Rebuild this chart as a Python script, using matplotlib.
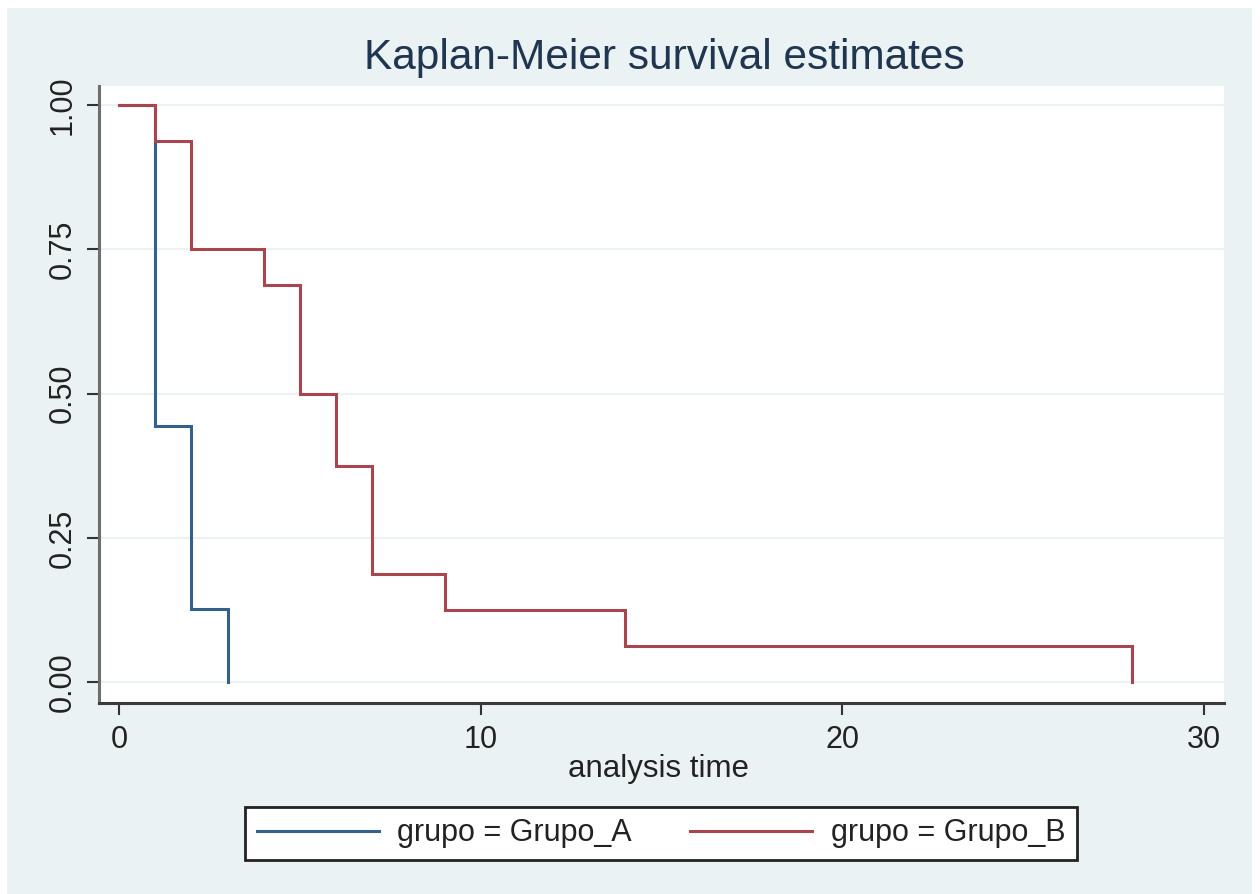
import matplotlib
matplotlib.use("Agg")
import matplotlib.pyplot as plt
from matplotlib.patches import Rectangle
from matplotlib.lines import Line2D

# ---- data ----
times_A = [0, 1, 2, 3]
surv_A = [1.0, 0.444, 0.127, 0.0]
times_B = [0, 1, 2, 4, 5, 6, 7, 9, 14, 28]
surv_B = [1.0, 0.9375, 0.75, 0.6875, 0.5, 0.375, 0.1875, 0.125, 0.0625, 0.0]
labels = ["grupo = Grupo_A", "grupo = Grupo_B"]
x_ticks = [0, 10, 20, 30]
y_ticks = [0.0, 0.25, 0.5, 0.75, 1.0]
y_ticklabels = ["0.00", "0.25", "0.50", "0.75", "1.00"]
title = "Kaplan-Meier survival estimates"
xlabel = "analysis time"

plt.rcParams['font.family'] = ['Liberation Sans', 'DejaVu Sans']

W, H = 1260, 894
fig = plt.figure(figsize=(W / 100, H / 100), dpi=100, facecolor="white")

bg = "#EAF2F3"
fig.patches.append(Rectangle((7 / W, 0), (1252 - 7) / W, 1 - 8 / H,
                             transform=fig.transFigure, facecolor=bg,
                             edgecolor="none", zorder=-10))

left, right, top, bottom = 99, 1224, 86, 703
ax = fig.add_axes([left / W, 1 - bottom / H, (right - left) / W, (bottom - top) / H])
ax.set_facecolor("white")

blue = "#34618c"
red = "#a8454f"

ax.step(times_A, surv_A, where="post", color=blue, lw=2.2,
        solid_joinstyle="miter", zorder=3)
ax.step(times_B, surv_B, where="post", color=red, lw=2.2,
        solid_joinstyle="miter", zorder=4)

ax.set_xlim(-0.553, 30.55)
ax.set_ylim(-0.036, 1.033)

for y in y_ticks:
    ax.axhline(y, color=bg, lw=1.5, zorder=1)

ax.set_xticks(x_ticks)
ax.set_xticklabels([str(t) for t in x_ticks])
ax.set_yticks(y_ticks)
ax.set_yticklabels(y_ticklabels, rotation=90, va="center")

ax.tick_params(axis="both", direction="out", length=8.5, width=1.5,
               color="#333333", labelsize=22, labelcolor="#222222")
ax.tick_params(axis="x", pad=7.5)
ax.tick_params(axis="y", pad=7)

for s in ["top", "right"]:
    ax.spines[s].set_visible(False)
ax.spines["left"].set_color("#6e6e6e")
ax.spines["left"].set_linewidth(2.2)
ax.spines["bottom"].set_color("#3a3a3a")
ax.spines["bottom"].set_linewidth(2.2)

fig.text(0.527, 1 - 69 / H, title, ha="center", va="baseline",
         fontsize=30.5, color="#1f3550")
fig.text(659 / W, 1 - 777 / H, xlabel, ha="center", va="baseline",
         fontsize=22.5, color="#222222")

handles = [Line2D([], [], color=blue, lw=2.2), Line2D([], [], color=red, lw=2.2)]
leg = fig.legend(handles, labels, ncol=2, loc="center",
                 bbox_to_anchor=(661 / W, 1 - 833.5 / H),
                 fontsize=22, frameon=True, fancybox=False,
                 edgecolor="#222222", facecolor="white", framealpha=1,
                 handlelength=4.0, handletextpad=0.6, columnspacing=1.9,
                 borderpad=0.38, labelcolor="#222222")
leg.get_frame().set_linewidth(2.0)

fig.savefig("out.png", dpi=100, facecolor=fig.get_facecolor())
